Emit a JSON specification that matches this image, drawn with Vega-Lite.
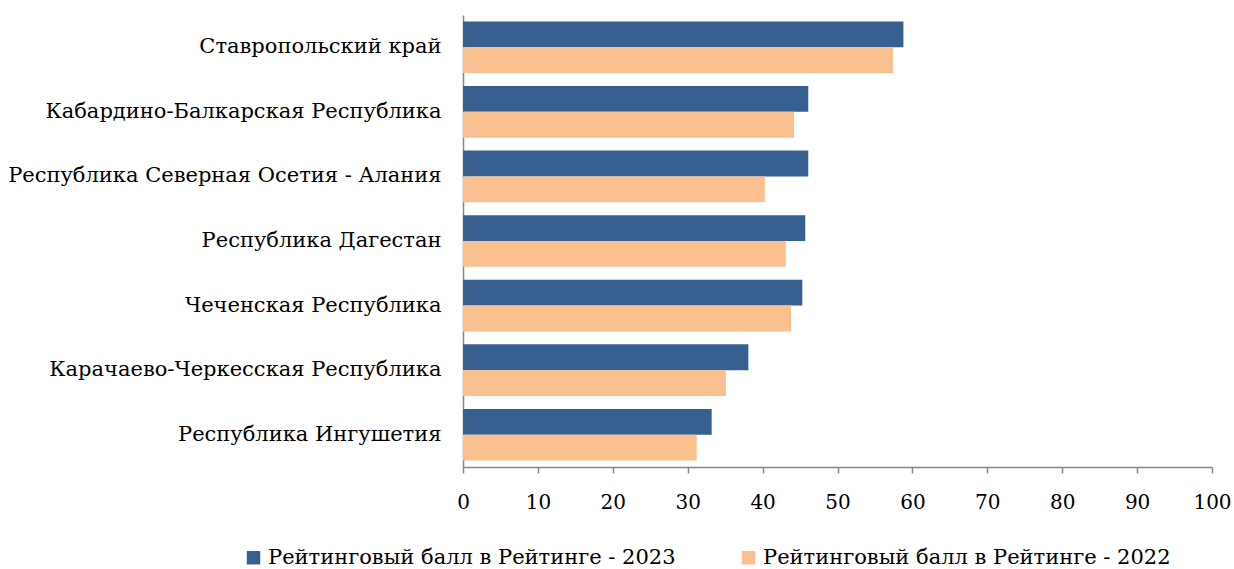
{
  "$schema": "https://vega.github.io/schema/vega-lite/v6.json",
  "width": 749,
  "height": 452,
  "autosize": {"type": "none"},
  "padding": {"left": 463, "top": 15, "right": 22, "bottom": 102},
  "background": "white",
  "config": {
    "font": "DejaVu Serif",
    "view": {"stroke": null}
  },
  "data": {
    "values": [
      {"region": "Ставропольский край", "series": "Рейтинговый балл в Рейтинге - 2023", "value": 58.8},
      {"region": "Ставропольский край", "series": "Рейтинговый балл в Рейтинге - 2022", "value": 57.4},
      {"region": "Кабардино-Балкарская Республика", "series": "Рейтинговый балл в Рейтинге - 2023", "value": 46.1},
      {"region": "Кабардино-Балкарская Республика", "series": "Рейтинговый балл в Рейтинге - 2022", "value": 44.2},
      {"region": "Республика Северная Осетия - Алания", "series": "Рейтинговый балл в Рейтинге - 2023", "value": 46.1},
      {"region": "Республика Северная Осетия - Алания", "series": "Рейтинговый балл в Рейтинге - 2022", "value": 40.3},
      {"region": "Республика Дагестан", "series": "Рейтинговый балл в Рейтинге - 2023", "value": 45.7},
      {"region": "Республика Дагестан", "series": "Рейтинговый балл в Рейтинге - 2022", "value": 43.1},
      {"region": "Чеченская Республика", "series": "Рейтинговый балл в Рейтинге - 2023", "value": 45.3},
      {"region": "Чеченская Республика", "series": "Рейтинговый балл в Рейтинге - 2022", "value": 43.8},
      {"region": "Карачаево-Черкесская Республика", "series": "Рейтинговый балл в Рейтинге - 2023", "value": 38.1},
      {"region": "Карачаево-Черкесская Республика", "series": "Рейтинговый балл в Рейтинге - 2022", "value": 35.1},
      {"region": "Республика Ингушетия", "series": "Рейтинговый балл в Рейтинге - 2023", "value": 33.2},
      {"region": "Республика Ингушетия", "series": "Рейтинговый балл в Рейтинге - 2022", "value": 31.2}
    ]
  },
  "mark": {"type": "bar"},
  "encoding": {
    "y": {
      "field": "region",
      "type": "nominal",
      "sort": null,
      "scale": {"paddingInner": 0.2, "paddingOuter": 0.1},
      "axis": {
        "title": null,
        "labelFont": "DejaVu Serif",
        "labelFontSize": 21,
        "labelColor": "black",
        "labelPadding": 22,
        "labelLimit": 500,
        "ticks": false,
        "domainColor": "#888888",
        "domainWidth": 1.5
      }
    },
    "yOffset": {
      "field": "series",
      "type": "nominal",
      "sort": ["Рейтинговый балл в Рейтинге - 2023", "Рейтинговый балл в Рейтинге - 2022"],
      "scale": {"paddingInner": 0, "paddingOuter": 0}
    },
    "x": {
      "field": "value",
      "type": "quantitative",
      "scale": {"domain": [0, 100], "nice": false},
      "axis": {
        "title": null,
        "values": [0, 10, 20, 30, 40, 50, 60, 70, 80, 90, 100],
        "grid": false,
        "labelFlush": false,
        "labelFont": "DejaVu Serif",
        "labelFontSize": 20,
        "labelColor": "black",
        "labelPadding": 19,
        "tickSize": 6,
        "tickColor": "#888888",
        "domainColor": "#888888",
        "domainWidth": 1.5,
        "tickWidth": 1.5
      }
    },
    "color": {
      "field": "series",
      "type": "nominal",
      "scale": {
        "domain": ["Рейтинговый балл в Рейтинге - 2023", "Рейтинговый балл в Рейтинге - 2022"],
        "range": ["#375F8F", "#FAC090"]
      },
      "legend": {
        "title": null,
        "orient": "none",
        "direction": "horizontal",
        "legendX": -220,
        "legendY": 532,
        "symbolType": "square",
        "symbolSize": 180,
        "symbolStrokeWidth": 0,
        "labelFont": "DejaVu Serif",
        "labelFontSize": 21,
        "labelColor": "black",
        "labelLimit": 600,
        "labelOffset": 4,
        "columnPadding": 62
      }
    }
  }
}
